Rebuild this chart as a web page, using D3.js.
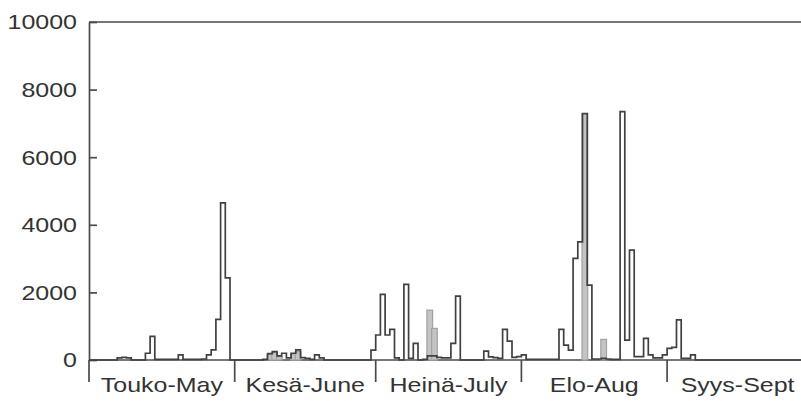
<!DOCTYPE html>
<html>
<head>
<meta charset="utf-8">
<script src="https://cdn.jsdelivr.net/npm/d3@7"></script>
<style>
body { margin: 0; background: #fff; }
svg text { font-family: "Liberation Sans", Arial, Helvetica, sans-serif; fill: #333; }
</style>
</head>
<body>
<svg id="chart" width="801" height="401"></svg>
<script>
// daily counts, May 1 = day 0
let mayCounts  = [0,0,0,0,0,0,60,80,60,0,0,0,200,700,20,20,20,20,20,150,20,20,20,20,30,150,300,1200,4650,2430,0];
let juneCounts = [0,0,0,0,0,0,20,190,250,120,200,60,200,300,70,50,20,150,60,0,0,0,0,0,0,0,0,0,0,295];
let julyCounts = [740,1940,740,905,60,0,2235,50,490,0,20,120,120,80,60,60,490,1890,0,0,0,0,0,265,90,70,50,905,560,80,100];
let augCounts  = [150,20,20,20,20,20,20,20,905,440,295,3005,3495,7290,2215,30,30,50,30,20,20,7350,590,3250,100,100,640,150,60,60,150];
let septCounts = [345,375,1190,50,50,150,0,0,0,0,0,0,0,0,0,0,0,0,0,0,0,0,0,0,0,0,0,0,0,0];

// shaded days and their values
let grayDays   = [38,39,40,43,44,72,73,105,109];
let grayValues = [160,220,100,180,250,1475,935,7290,610];

let monthStarts = [0,31,61,92,123];
let monthEnds   = [31,61,92,123,153];
let monthLabels = ["Touko-May","Kesä-June","Heinä-July","Elo-Aug","Syys-Sept"];
let yTicks = [0,2000,4000,6000,8000,10000];

let counts = mayCounts.concat(juneCounts, julyCounts, augCounts, septCounts);

const svg = d3.select("#chart");
const stretch = 1.19; // text in the picture is wider than it is tall

let x = d3.scaleLinear().domain([0, 153]).range([89, 89 + 153 * 4.7]);
let y = d3.scaleLinear().domain([0, 10000]).range([360, 22]);

let axisColor = "#4a4a4a";

// frame top line and zero line
svg.append("line")
   .attr("x1", x.range()[0]).attr("x2", x.range()[1])
   .attr("y1", y(10000)).attr("y2", y(10000))
   .attr("stroke", axisColor).attr("stroke-width", 1.7);

svg.append("line")
   .attr("x1", x.range()[0]).attr("x2", x.range()[1])
   .attr("y1", y(0)).attr("y2", y(0))
   .attr("stroke", axisColor).attr("stroke-width", 1.7);

// y axis
let yAxis = svg.append("g")
   .attr("transform", "translate(" + x(0) + ",0)")
   .call(d3.axisLeft(y).tickValues(yTicks).tickFormat(d3.format("d"))
           .tickSizeInner(-8).tickSizeOuter(0).tickPadding(12));

yAxis.attr("font-size", 21).attr("font-family", null);
yAxis.select(".domain").attr("stroke", axisColor).attr("stroke-width", 1.7);
yAxis.selectAll(".tick line").attr("stroke", axisColor).attr("stroke-width", 1.7);
yAxis.selectAll(".tick text")
     .attr("x", -12 / stretch)
     .attr("dy", "0.33em")
     .attr("transform", "scale(" + stretch + ",1)")
     .attr("fill", "#333");

// month separators under the zero line
svg.selectAll(".month-tick")
   .data(monthStarts)
   .enter().append("line")
   .attr("class", "month-tick")
   .attr("x1", d => x(d)).attr("x2", d => x(d))
   .attr("y1", y(0)).attr("y2", y(0) + 22)
   .attr("stroke", axisColor).attr("stroke-width", 1.7);

svg.selectAll(".month-label")
   .data(monthLabels)
   .enter().append("g")
   .attr("class", "month-label")
   .attr("transform", (d, i) => "translate(" + x((monthStarts[i] + monthEnds[i]) / 2) + ",392)")
   .append("text")
   .attr("text-anchor", "middle")
   .attr("font-size", 21)
   .attr("transform", "scale(" + stretch + ",1)")
   .text(d => d);

// shaded bars
svg.selectAll(".gray-bar")
   .data(grayDays)
   .enter().append("rect")
   .attr("class", "gray-bar")
   .attr("x", d => x(d) - 0.5)
   .attr("width", d => x(d + 1) - x(d) + 1)
   .attr("y", (d, i) => y(grayValues[i]))
   .attr("height", (d, i) => y(0) - y(grayValues[i]))
   .attr("fill", "#c4c4c4")
   .attr("stroke", "#a2a2a2")
   .attr("stroke-width", 1.2);

// outlined histogram as a step line
let points = counts.map((v, i) => [i, v]);
points.push([counts.length, counts[counts.length - 1]]);

let step = d3.line()
   .x(d => x(d[0]))
   .y(d => y(d[1]))
   .curve(d3.curveStepAfter);

svg.append("path")
   .datum(points)
   .attr("d", step)
   .attr("fill", "none")
   .attr("stroke", "#404040")
   .attr("stroke-width", 1.7);
</script>
</body>
</html>
